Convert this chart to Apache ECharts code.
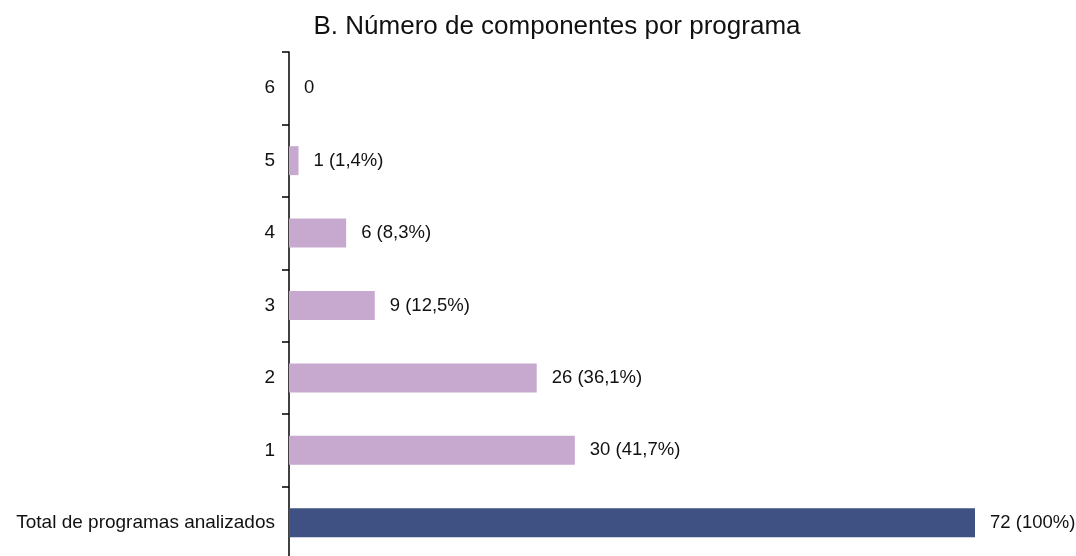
<!DOCTYPE html>
<html>
<head>
<meta charset="utf-8">
<script src="https://cdn.jsdelivr.net/npm/echarts@6/dist/echarts.min.js"></script>
<style>
html, body { margin: 0; padding: 0; background: #fff; }
#chart { width: 1076px; height: 556px; }
</style>
</head>
<body>
<div id="chart"></div>
<script>
// categories bottom -> top
var categories = ['Total de programas analizados', '1', '2', '3', '4', '5', '6'];
var values = [72, 30, 26, 9, 6, 1, 0];
var percents = ['100%', '41,7%', '36,1%', '12,5%', '8,3%', '1,4%', ''];

var barColors = ['#3E5182', '#C7A9D0', '#C7A9D0', '#C7A9D0', '#C7A9D0', '#C7A9D0', '#C7A9D0'];

var seriesData = values.map(function (v, i) {
    return { value: v, itemStyle: { color: barColors[i] } };
});

var chart = echarts.init(document.getElementById('chart'));
chart.setOption({
    animation: false,
    textStyle: { fontFamily: 'Liberation Sans, Arial, sans-serif' },
    title: {
        text: 'B. Número de componentes por programa',
        left: 552,
        textAlign: 'center',
        top: 9,
        textStyle: { fontSize: 26, fontWeight: 'normal', color: '#111', fontFamily: 'Liberation Sans, Arial, sans-serif' }
    },
    grid: { left: 289, top: 52, width: 686, height: 507, containLabel: false, outerBoundsMode: 'none' },
    xAxis: {
        type: 'value',
        min: 0,
        max: 72,
        show: false
    },
    yAxis: {
        type: 'category',
        data: categories,
        axisLine: { show: true, lineStyle: { color: '#000', width: 1.5 } },
        axisTick: { show: true, length: 7, lineStyle: { color: '#000', width: 1.5 } },
        axisLabel: { margin: 14, fontSize: 19, color: '#111' },
        splitLine: { show: false }
    },
    series: [{
        type: 'bar',
        barWidth: '40%',
        data: seriesData,
        label: {
            show: true,
            position: 'right',
            distance: 15,
            fontSize: 18.5,
            color: '#111',
            formatter: function (p) {
                var pct = percents[p.dataIndex];
                return pct ? p.value + ' (' + pct + ')' : String(p.value);
            }
        }
    }]
});
</script>
</body>
</html>
